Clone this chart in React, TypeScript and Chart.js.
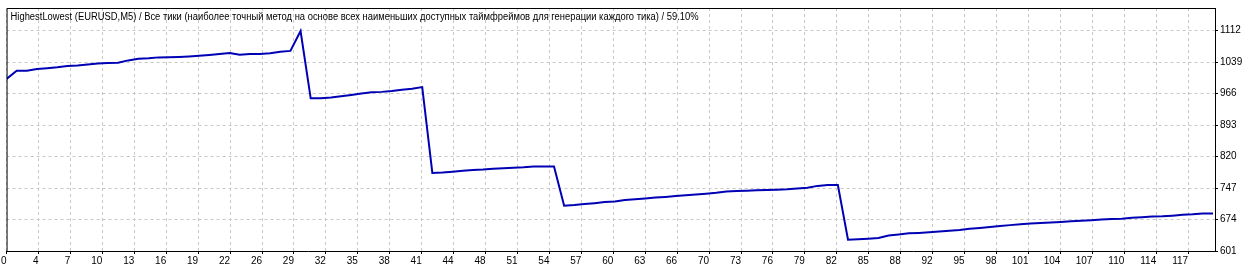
import React, { useEffect, useRef } from "react";
import { Chart, registerables } from "chart.js";

Chart.register(...registerables);

const titleText =
  "HighestLowest (EURUSD,M5) / Все тики (наиболее точный метод на основе всех наименьших доступных таймфреймов для генерации каждого тика) / 59.10%";

const xTickLabels = [
  "0", "4", "7", "10", "13", "16", "19", "22", "26", "29", "32", "35", "38", "41",
  "44", "48", "51", "54", "57", "60", "63", "66", "70", "73", "76", "79", "82", "85",
  "88", "92", "95", "98", "101", "104", "107", "110", "114", "117",
];

const yTickValues = [601, 674, 747, 820, 893, 966, 1039, 1112];

const balance = [
  1000, 1019, 1019, 1023, 1025, 1027, 1030, 1031, 1033.5, 1036,
  1037, 1037.5, 1043, 1047, 1048, 1050, 1050.5, 1051, 1052, 1053.5,
  1055.5, 1058, 1060, 1056, 1058, 1058, 1059.5, 1063, 1065, 1111,
  955, 955.5, 957, 960, 963, 966, 969, 970, 972, 975,
  977, 981, 782, 783, 785, 787, 789, 790, 792, 793,
  794, 795, 797, 797, 797, 706, 707.5, 710, 712, 714.5,
  716, 719, 721, 723, 725, 726.5, 728.5, 730, 732, 734,
  736, 739, 740, 741, 742, 742.5, 743, 744, 746, 747.5,
  752, 754, 754, 627, 628, 629.5, 631, 637, 639.5, 642,
  643, 644.5, 646.5, 648, 649.5, 652.5, 654.5, 656.5, 659, 661,
  663, 665, 666, 667, 668.5, 670, 671, 672.5, 674, 675,
  676, 678, 679.5, 681, 681.5, 683, 685, 686, 688, 688,
];

const X_MAX = 119.2;
const X_TICK_STEP = 3.15;
const Y_MIN = 601;
const Y_MAX = 1164.5;

const FONT = "'Liberation Sans', Arial, sans-serif";

export default function App() {
  const ref = useRef<HTMLCanvasElement | null>(null);

  useEffect(() => {
    document.body.style.margin = "0";
    const canvas = ref.current;
    if (!canvas) return;

    const framePlugin = {
      id: "frameAndTitle",
      afterDraw(chart: any) {
        const { ctx, chartArea } = chart;
        const { left, top, right, bottom } = chartArea;
        ctx.save();
        ctx.strokeStyle = "#000000";
        ctx.lineWidth = 1;
        ctx.beginPath();
        ctx.moveTo(left + 0.5, bottom);
        ctx.lineTo(left + 0.5, top + 0.5);
        ctx.lineTo(right, top + 0.5);
        ctx.stroke();
        ctx.fillStyle = "#000000";
        ctx.font = `10px ${FONT}`;
        ctx.textAlign = "left";
        ctx.textBaseline = "alphabetic";
        ctx.fillText(titleText, left + 4, top + 12, 688);
        ctx.restore();
      },
    };

    const chart = new Chart(canvas, {
      type: "line",
      data: {
        datasets: [
          {
            data: balance.map((v, i) => ({ x: i, y: v })),
            borderColor: "#0000b4",
            borderWidth: 2,
            pointRadius: 0,
            tension: 0,
            fill: false,
          },
        ],
      },
      options: {
        animation: false,
        responsive: false,
        devicePixelRatio: 1,
        layout: { padding: { left: 4, top: 4, right: 0, bottom: 0 } },
        plugins: {
          legend: { display: false },
          tooltip: { enabled: false },
          title: { display: false },
        },
        scales: {
          x: {
            type: "linear",
            min: 0,
            max: X_MAX,
            afterBuildTicks: (scale: any) => {
              scale.ticks = xTickLabels.map((_, k) => ({ value: k * X_TICK_STEP }));
            },
            afterFit: (scale: any) => {
              scale.height = 17;
            },
            ticks: {
              autoSkip: false,
              maxRotation: 0,
              minRotation: 0,
              align: "end",
              padding: 1,
              color: "#000000",
              font: { family: FONT, size: 10 },
              callback: (_v: any, index: number) => xTickLabels[index],
            },
            grid: {
              color: "#c8c8c8",
              lineWidth: 1,
              tickLength: 3,
              tickColor: "#000000",
              tickWidth: 1,
            },
            border: { display: true, color: "#000000", width: 1, dash: [3, 3] },
          },
          y: {
            type: "linear",
            position: "right",
            min: Y_MIN,
            max: Y_MAX,
            afterBuildTicks: (scale: any) => {
              scale.ticks = yTickValues.map((v) => ({ value: v }));
            },
            afterFit: (scale: any) => {
              scale.width = 45;
            },
            ticks: {
              autoSkip: false,
              padding: 2,
              color: "#000000",
              font: { family: FONT, size: 10 },
              callback: (v: any) => String(v),
            },
            grid: {
              color: "#c8c8c8",
              lineWidth: 1,
              tickLength: 3,
              tickColor: "#000000",
              tickWidth: 1,
            },
            border: { display: true, color: "#000000", width: 1, dash: [3, 3] },
          },
        },
      },
      plugins: [framePlugin],
    } as any);

    return () => {
      chart.destroy();
    };
  }, []);

  return (
    <canvas
      ref={ref}
      width={1260}
      height={268}
      style={{ display: "block", width: "1260px", height: "268px" }}
    />
  );
}
